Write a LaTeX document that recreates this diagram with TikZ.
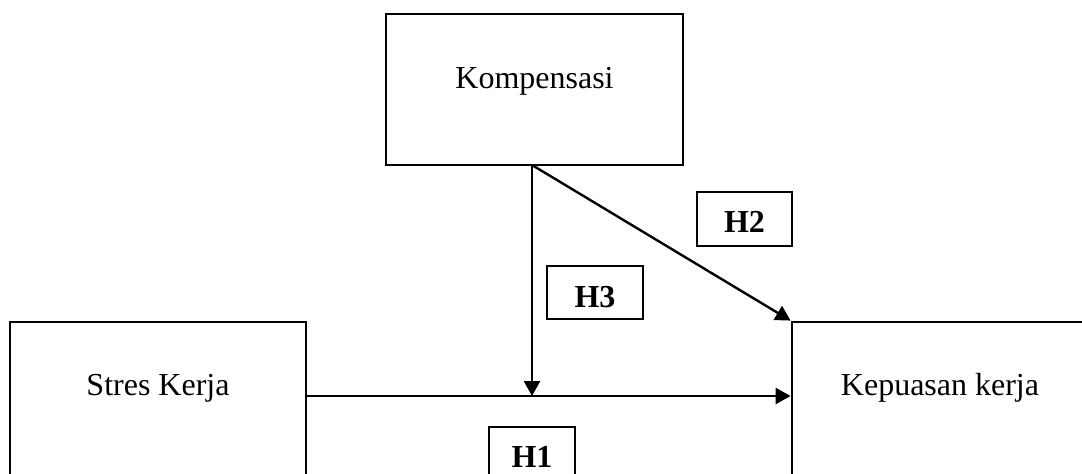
\documentclass[tikz,border=0pt]{standalone}
\usepackage{fontspec}
\setmainfont{Liberation Serif}
\usetikzlibrary{arrows.meta}
\begin{document}
\begin{tikzpicture}[x=0.5pt,y=-0.5pt,
  box/.style={draw,line width=1.4pt,inner sep=0pt,minimum width=#1},
  hbox/.style={draw,line width=1.1pt,inner sep=0pt},
  lbl/.style={anchor=base,inner sep=0pt,font=\fontsize{16}{19}\selectfont},
  hlbl/.style={anchor=base,inner sep=0pt,font=\fontsize{16}{19}\selectfont\bfseries},
  conn/.style={line width=1.2pt,-{Triangle[length=7.5pt,width=8pt]}}]
\useasboundingbox (0,0) rectangle (1082,473);
\clip (0,0) rectangle (1082,473);
% main boxes
\node[box=297*0.5pt,minimum height=151*0.5pt] (komp) at (534.5,89.5) {};
\node[box=296*0.5pt,minimum height=180*0.5pt] (stres) at (158,412) {};
\node[box=296*0.5pt,minimum height=180*0.5pt] (kep) at (940,412) {};
% texts
\node[lbl] (kompT) at (534.5,88) {Kompensasi};
\node[lbl] (stresT) at (158,395) {Stres Kerja};
\node[lbl] (kepT) at (940,395) {Kepuasan kerja};
% hypothesis boxes
\node[hbox,minimum width=95*0.5pt,minimum height=54*0.5pt] (h2) at (744.5,219) {};
\node[hbox,minimum width=96*0.5pt,minimum height=53*0.5pt] (h3) at (595,292.5) {};
\node[hbox,minimum width=86*0.5pt,minimum height=54*0.5pt] (h1) at (532,454) {};
\node[hlbl] (h2T) at (744.5,232) {H2};
\node[hlbl] (h3T) at (595,307) {H3};
\node[hlbl] (h1T) at (532,467) {H1};
% connectors
\coordinate (k) at (532,165);
\coordinate (j) at (532,396);
\draw[conn] (k) -- (j);
\draw[conn] (k) -- (kep.north west);
\draw[conn] (stres.east |- j) -- (kep.west |- j);
\end{tikzpicture}
\end{document}
